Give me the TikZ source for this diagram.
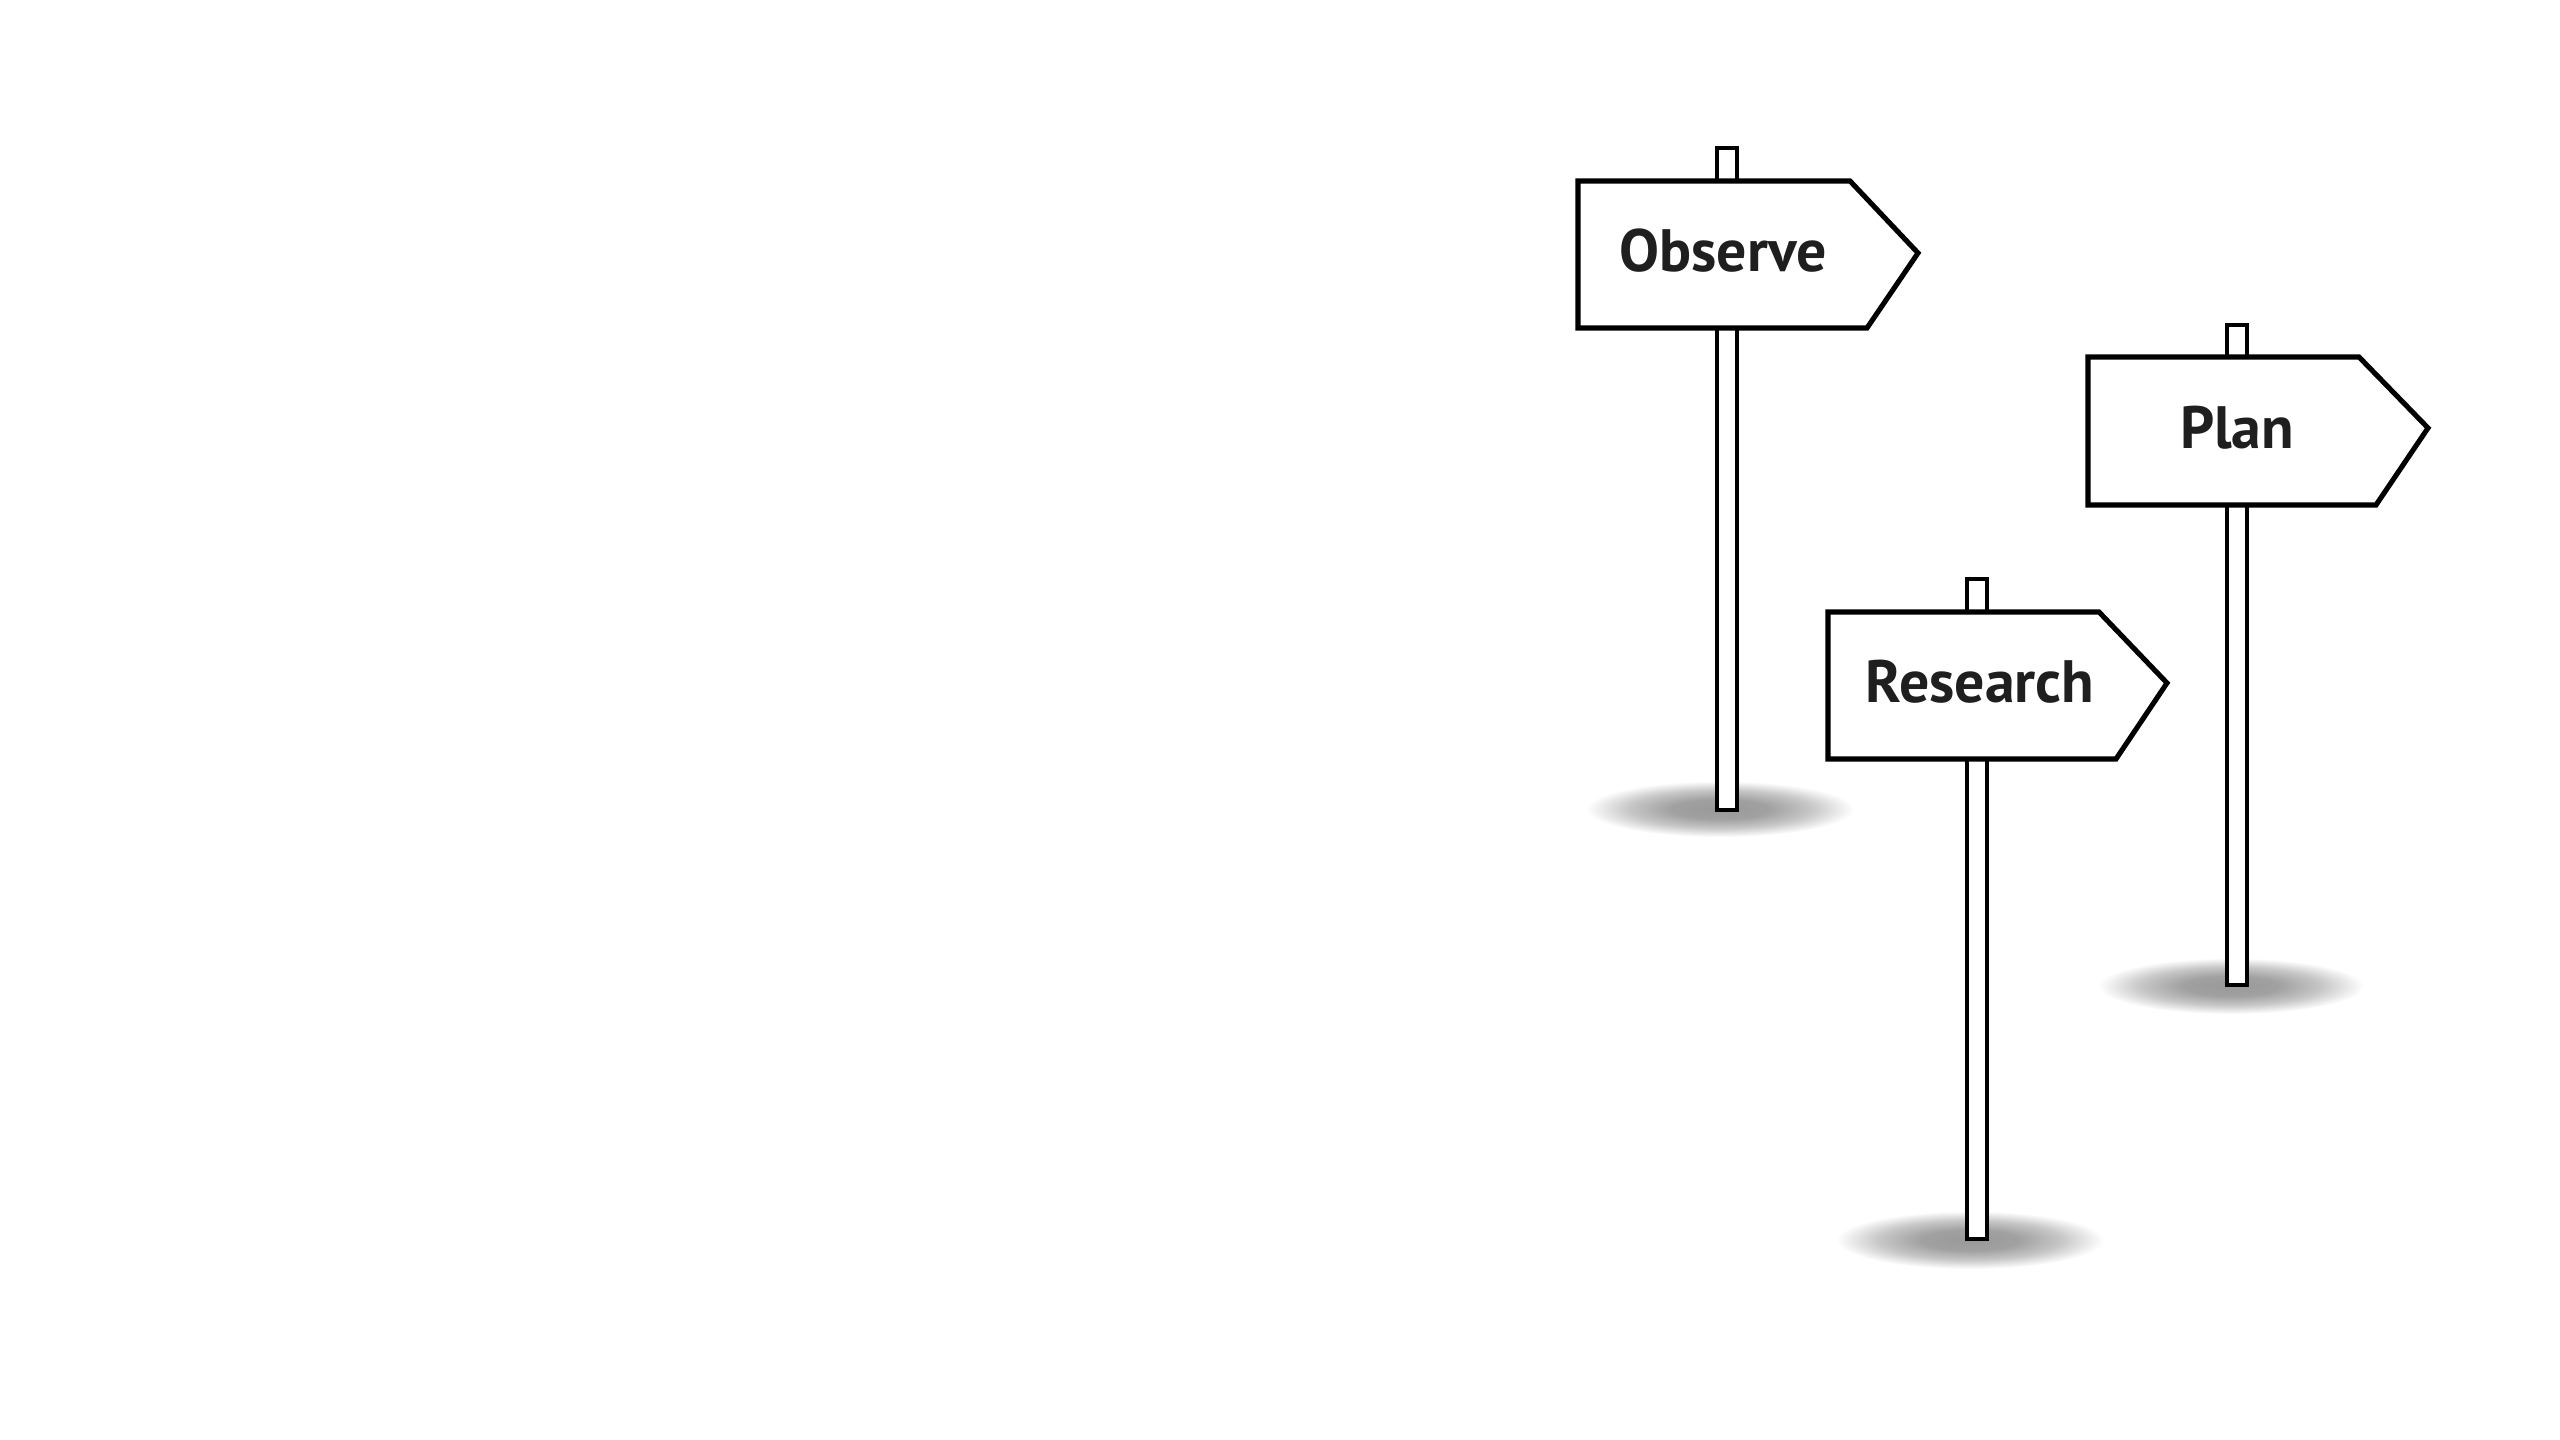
\documentclass[tikz,border=0pt]{standalone}
\usepackage{fontspec}
\setmainfont{PT Sans}
\pgfdeclareradialshading{gshadow}{\pgfpoint{0bp}{0bp}}{color(0bp)=(black!40); color(9bp)=(black!37); color(17bp)=(black!22); color(25bp)=(white); color(50bp)=(white)}
\tikzset{
  board/.style={draw=black, fill=white, line width=1.45pt, line join=miter},
  post/.style={draw=black, fill=white, line width=1.15pt},
  label/.style={anchor=base, inner sep=0pt, font=\fontsize{17}{20}\selectfont\bfseries, text=black!88},
  shadowsh/.style={shading=gshadow}
}
\begin{document}
\begin{tikzpicture}[x=0.01cm, y=-0.01cm]
\useasboundingbox (0,0) rectangle (2560,1440);
% shadows
\shade[shadowsh] (1720,809) ellipse [x radius=134, y radius=28];
\shade[shadowsh] (1970,1240) ellipse [x radius=134, y radius=29];
\shade[shadowsh] (2231,986) ellipse [x radius=133, y radius=28];
% posts
\draw[post] (1717,148) rectangle (1737,810);
\draw[post] (1967,579) rectangle (1987,1239);
\draw[post] (2227,325) rectangle (2247,985);
% boards
\draw[board] (1578,181) -- (1850,181) -- (1918,253) -- (1867,328) -- (1578,328) -- cycle;
\draw[board] (1828,612) -- (2099,612) -- (2167,683) -- (2116,759) -- (1828,759) -- cycle;
\draw[board] (2088,357) -- (2359,357) -- (2428,428) -- (2376,505) -- (2088,505) -- cycle;
% labels
\node[label] (observe) at (1723,272) {Observe};
\node[label] (research) at (1980,703) {Research};
\node[label] (plan) at (2237,449) {Plan};
\end{tikzpicture}
\end{document}
